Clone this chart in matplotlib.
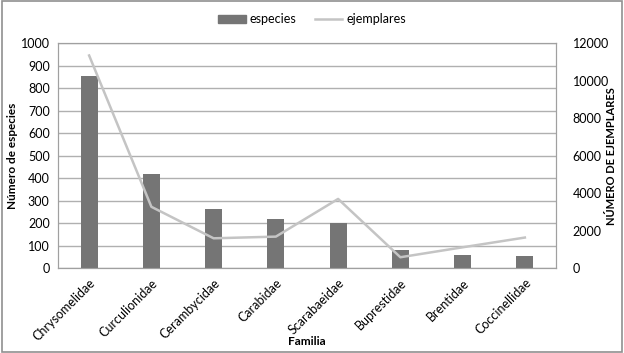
import matplotlib.pyplot as plt
import numpy as np
from matplotlib.patches import Rectangle
from matplotlib.lines import Line2D

plt.rcParams['font.family'] = ['Lato', 'DejaVu Sans']

familias = ['Chrysomelidae', 'Curculionidae', 'Cerambycidae', 'Carabidae',
            'Scarabaeidae', 'Buprestidae', 'Brentidae', 'Coccinellidae']
especies = [855, 419, 262, 220, 200, 82, 60, 55]
ejemplares = [11350, 3280, 1600, 1690, 3700, 590, 1120, 1640]

fig = plt.figure(figsize=(6.24, 3.53), dpi=100)
ax = fig.add_axes([58/624, 1 - 268.3/353, 498/624, 225/353])
x = np.arange(len(familias))

ax.bar(x, especies, width=0.27, color='#757575', zorder=3)
ax.set_xlim(-0.5, len(familias) - 0.5)
ax.set_ylim(0, 1000)
ax.set_yticks(range(0, 1001, 100))
ax.yaxis.grid(True, color='#b0b0b0', linewidth=1, zorder=0)
ax.set_xticks(x)
ax.set_xticklabels(familias, rotation=45, ha='right', rotation_mode='anchor', fontsize=9)
ax.tick_params(axis='both', length=0, labelsize=9, pad=6)
ax.set_ylabel('Número de especies', fontweight='bold', fontsize=8.5)
ax.yaxis.set_label_coords(-0.08, 0.5)
ax.set_xlabel('Familia', fontweight='bold', fontsize=8.5)
ax.xaxis.set_label_coords(0.5, -0.3)
for s in ax.spines.values():
    s.set_color('#a0a0a0')

ax2 = ax.twinx()
ax2.plot(x, ejemplares, color='#c4c4c4', linewidth=1.8, zorder=4)
ax2.set_ylim(0, 12000)
ax2.set_yticks(range(0, 12001, 2000))
ax2.tick_params(axis='y', length=0, labelsize=9, pad=12)
ax2.set_ylabel('NÚMERO DE EJEMPLARES', fontweight='bold', fontsize=8)
ax2.yaxis.set_label_coords(1.10, 0.5)
for s in ax2.spines.values():
    s.set_color('#a0a0a0')

handles = [Rectangle((0, 0), 1, 1, color='#757575'),
           Line2D([0], [0], color='#c4c4c4', linewidth=1.8)]
fig.legend(handles, ['especies', 'ejemplares'], loc='center', bbox_to_anchor=(0.5, 0.945),
           ncol=2, frameon=False, fontsize=9, handlelength=2.2, handletextpad=0.3,
           columnspacing=1.5)

fig.patches.append(Rectangle((0.003, 0.004), 0.994, 0.992, transform=fig.transFigure,
                             fill=False, edgecolor='#909090', linewidth=1.2))

fig.savefig('out.png', dpi=100)
